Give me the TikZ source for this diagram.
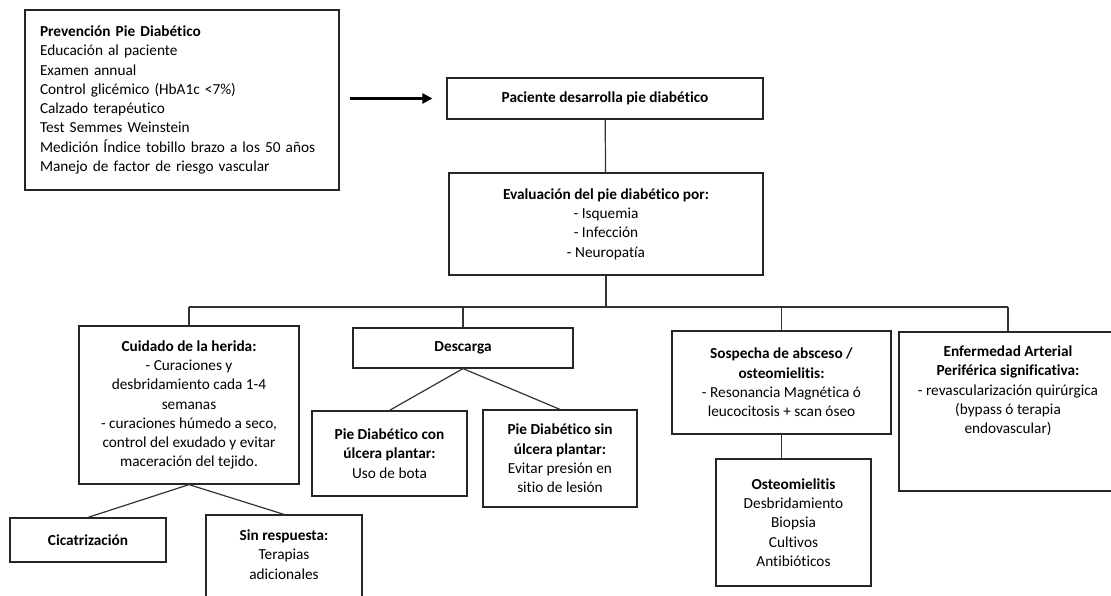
\documentclass[tikz,border=0pt]{standalone}
\usepackage{fontspec}
\setmainfont[Ligatures=NoCommon]{Carlito}
\usetikzlibrary{arrows.meta}

\begin{document}
\begin{tikzpicture}[
  x=1pt,y=-1pt,
  font=\fontsize{15.3}{19.3}\selectfont,
  box/.style={draw=black!85,line width=1.2pt,align=center,inner sep=2pt},
  link/.style={draw=black!80,line width=1.2pt},
  arrow/.style={-{Triangle[length=10pt,width=10pt]},line width=2.6pt}
]
\useasboundingbox (0,0) rectangle (1111,596);
\clip (0,0) rectangle (1111,596);

\node[box,align=left,text width=284pt,inner xsep=15pt,minimum height=180pt] (prevencion) at (182,100)
  {\textbf{Prevención Pie Diabético}\\ Educación al paciente\\ Examen annual\\ Control glicémico (HbA1c <7\%)\\
   Calzado terapéutico\\ Test Semmes Weinstein\\ Medición Índice tobillo brazo a los 50 años\\ Manejo de factor de riesgo vascular};
\node[box,minimum width=316pt,minimum height=41pt] (paciente) at (605,98.5) {\textbf{Paciente desarrolla pie diabético}};
\node[box,minimum width=314pt,minimum height=102pt] (evaluacion) at (606,224)
  {\textbf{Evaluación del pie diabético por:}\\ - Isquemia\\ - Infección\\ - Neuropatía};
\node[box,minimum width=220pt,minimum height=158pt] (herida) at (189,405)
  {\textbf{Cuidado de la herida:}\\ - Curaciones y\\ desbridamiento cada 1-4\\ semanas\\
   - curaciones húmedo a seco,\\ control del exudado y evitar\\ maceración del tejido.};
\node[box,minimum width=220pt,minimum height=40pt] (descarga) at (463,348) {\textbf{Descarga}};
\node[box,minimum width=155pt,minimum height=85pt] (conulcera) at (389.5,453.5)
  {\textbf{Pie Diabético con}\\ \textbf{úlcera plantar:}\\ Uso de bota};
\node[box,minimum width=154pt,minimum height=97pt] (sinulcera) at (560,458.5)
  {\textbf{Pie Diabético sin}\\ \textbf{úlcera plantar:}\\ Evitar presión en\\ sitio de lesión};
\node[box,minimum width=219pt,minimum height=103pt] (sospecha) at (781.5,382.5)
  {\textbf{Sospecha de absceso /}\\ \textbf{osteomielitis:}\\ - Resonancia Magnética ó\\ leucocitosis + scan óseo};
\node[box,minimum width=218pt,minimum height=159pt,inner sep=0pt] (arterial) at (1008,411.5)
  {\parbox[c][131.6pt][t]{214pt}{\centering\textbf{Enfermedad Arterial}\\ \textbf{Periférica significativa:}\\
   - revascularización quirúrgica\\ (bypass ó terapia\\ endovascular)}};
\node[box,minimum width=155pt,minimum height=127pt] (osteo) at (793.5,522.5)
  {\textbf{Osteomielitis}\\ Desbridamiento\\ Biopsia\\ Cultivos\\ Antibióticos};
\node[box,minimum width=156pt,minimum height=44pt] (cicatriz) at (88,540) {\textbf{Cicatrización}};
\node[box,minimum width=156pt,minimum height=110pt,inner sep=0pt] (sinresp) at (284,570)
  {\parbox[c][80.6pt][t]{150pt}{\centering\textbf{Sin respuesta:}\\ Terapias\\ adicionales}};

\coordinate (flecha) at (350,98.5);
\coordinate (bus) at (606,307);

\draw[arrow] (flecha) -- ([xshift=-14pt]paciente.west);
\draw[link] (paciente) -- (evaluacion);
\draw[link] (evaluacion) -- (evaluacion.south |- bus);
\draw[link] (herida.north |- bus) -- (arterial.north |- bus);
\foreach \n in {herida,descarga,sospecha,arterial}
  \draw[link] (\n.north |- bus) -- (\n.north);
\draw[link] (herida.south) -- (cicatriz.north);
\draw[link] (herida.south) -- (sinresp.north);
\draw[link] (descarga.south) -- (conulcera.north);
\draw[link] (descarga.south) -- (sinulcera.north);
\draw[link] (sospecha.south) -- (sospecha.south |- osteo.north);
\end{tikzpicture}
\end{document}
